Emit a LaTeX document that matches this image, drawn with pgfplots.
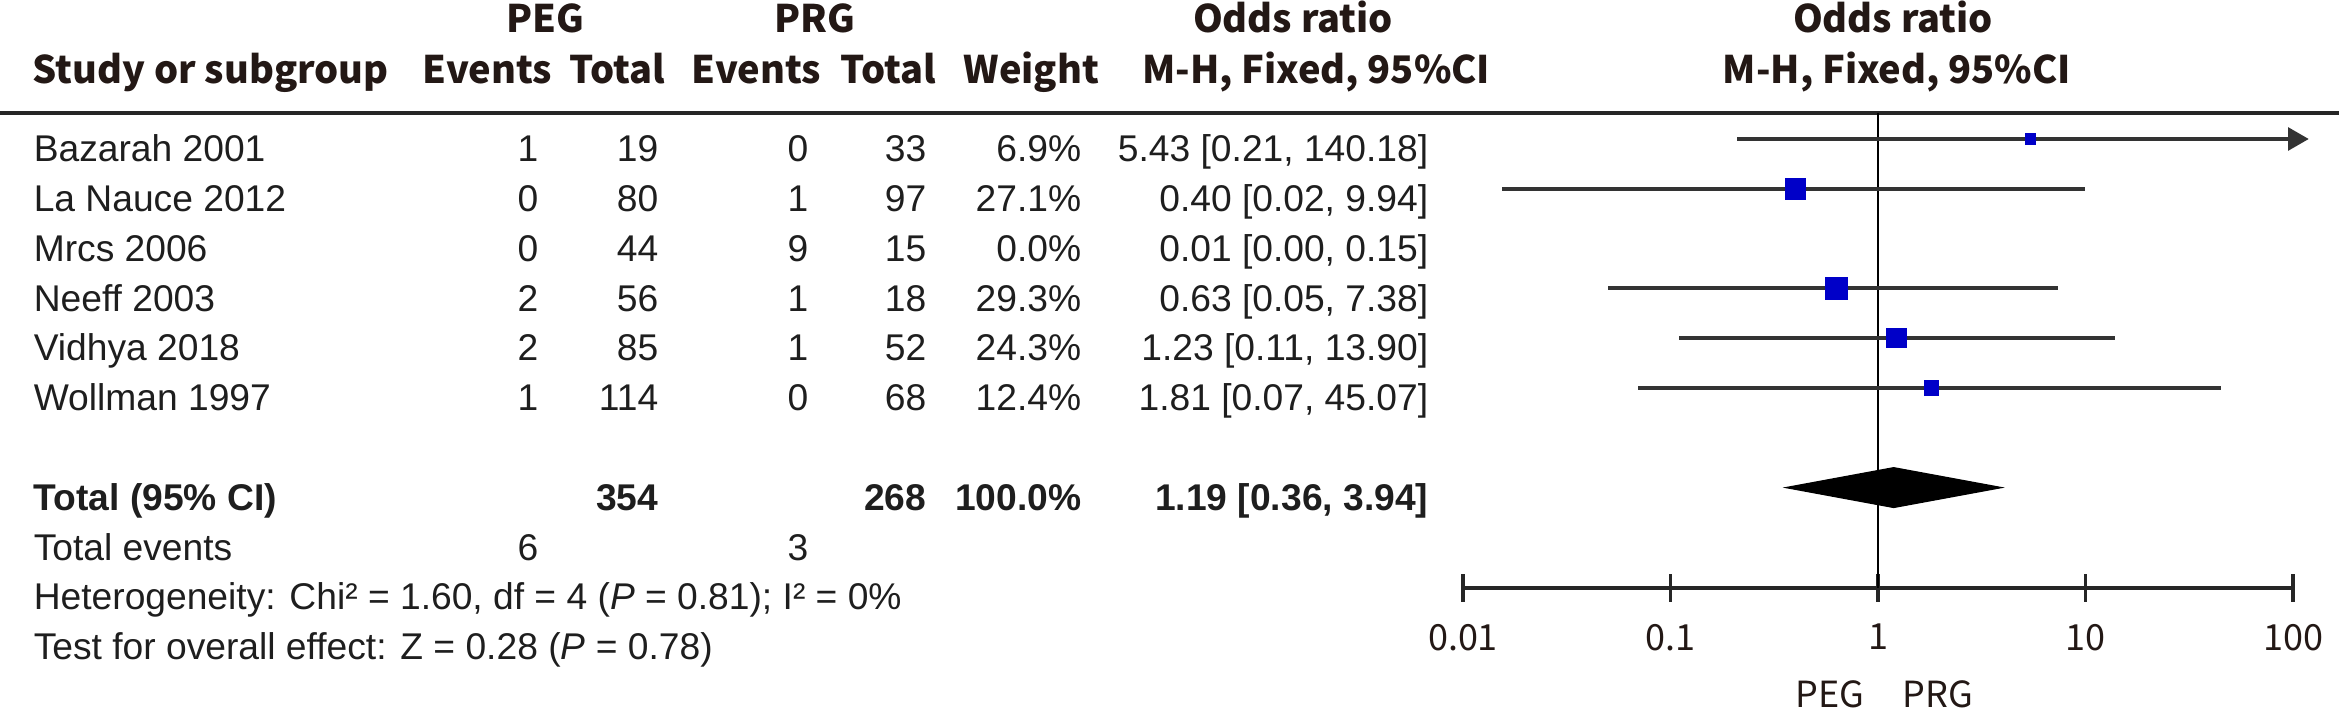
\documentclass[border=0pt]{standalone}
\usepackage{pgfplots}
\pgfplotsset{compat=1.18}
\usepackage{pgfplotstable}
\usepackage{fontspec}
\setmainfont{Liberation Sans}
\newfontfamily\cjkf{Noto Sans CJK SC}

\definecolor{sqblue}{HTML}{0000C8}
\definecolor{cigray}{HTML}{333333}
\definecolor{ink}{HTML}{231815}
\definecolor{body}{HTML}{1E1E1E}

\newcommand\bodyfont{\fontsize{9.3pt}{11pt}\selectfont}
\newcommand\hdrfont{\cjkf\bfseries\fontsize{9.5pt}{11pt}\selectfont}
\newcommand\tickfont{\cjkf\fontsize{9pt}{11pt}\selectfont}

% plotted studies: row index, odds ratio, 95% CI (as drawn), weight (%)
\pgfplotstableread{
row or   lo     hi     wt
0   5.43 0.21   140.18 6.9
1   0.40 0.0155 9.94   27.1
3   0.63 0.05   7.38   29.3
4   1.23 0.11   13.90  24.3
5   1.81 0.07   45.07  12.4
}\forestdata

\begin{document}
\begin{tikzpicture}[x=0.25pt, y=-0.25pt]
\path[use as bounding box] (0,0) rectangle (2339,717);
\draw[line width=0.8pt, black!85] (0,113) -- (2339,113);

\begin{axis}[
  at={(365.75pt,-28.25pt)}, anchor=north west,
  scale only axis, width=207.5pt, height=118.75pt,
  xmode=log, xmin=0.01, xmax=100, ymin=-9.016, ymax=0.522,
  axis y line=none, axis x line=bottom,
  x axis line style={-, line width=1pt, draw=black!85},
  xtick={0.01,0.1,1,10,100}, xticklabels={0.01,0.1,1,10,100},
  xminorticks=false,
  tick align=center, major tick length=7pt,
  major tick style={line width=0.8pt, black!85},
  xticklabel style={font=\tickfont, text=ink}, xticklabel shift=2pt,
]
% line of no effect
\addplot[line width=0.7pt, black] coordinates {(1,-9.016) (1,0.522)};
% confidence intervals
\addplot[draw=none, mark=none, error bars/.cd, x dir=both, x explicit,
  error mark=none, error bar style={draw=cigray, line width=1pt}]
  table[x=or, y expr=-\thisrow{row},
        x error plus expr=\thisrow{hi}-\thisrow{or},
        x error minus expr=\thisrow{or}-\thisrow{lo}] {\forestdata};
% weight squares
\addplot[scatter, only marks, mark=square*,
  scatter/use mapped color={draw=sqblue, fill=sqblue},
  visualization depends on={0.48*sqrt(\thisrow{wt})\as\msz},
  scatter/@pre marker code/.append style={/tikz/mark size=\msz pt}]
  table[x=or, y expr=-\thisrow{row}] {\forestdata};
% arrow for CI beyond 100
\addplot[only marks, mark=triangle*, mark size=3pt,
  mark options={xshift=0.5pt, rotate=-90, fill=cigray, draw=cigray}]
  coordinates {(100,0)};
% pooled estimate 1.19 [0.36, 3.94]
\addplot[fill=black, draw=black, line width=0.3pt]
  coordinates {(0.36,-7) (1.19,-6.6) (3.94,-7) (1.19,-7.4)} -- cycle;
\end{axis}

% headers
\begin{scope}[every node/.style={inner sep=0pt, font=\hdrfont, text=ink}]
\node[anchor=base] at (545,33) {PEG};
\node[anchor=base] at (815,33) {PRG};
\node[anchor=base] at (1293,33) {Odds ratio};
\node[anchor=base] at (1893,33) {Odds ratio};
\node[anchor=base west] at (32,83) {Study or subgroup};
\node[anchor=base east] at (553,83) {Events};
\node[anchor=base east] at (666,83) {Total};
\node[anchor=base east] at (822,83) {Events};
\node[anchor=base east] at (937,83) {Total};
\node[anchor=base east] at (1100,83) {Weight};
\node[anchor=base east] at (1491,83) {M-H, Fixed, 95\%CI};
\node[anchor=base] at (1897,83) {M-H, Fixed, 95\%CI};
\end{scope}

% study rows
\begin{scope}[every node/.style={inner sep=0pt, font=\bodyfont, text=body}]
\foreach \k/\s/\a/\b/\c/\d/\w/\o in {
  0/Bazarah 2001/1/19/0/33/6.9/{5.43 [0.21, 140.18]},
  1/La Nauce 2012/0/80/1/97/27.1/{0.40 [0.02, 9.94]},
  2/Mrcs 2006/0/44/9/15/0.0/{0.01 [0.00, 0.15]},
  3/Neeff 2003/2/56/1/18/29.3/{0.63 [0.05, 7.38]},
  4/Vidhya 2018/2/85/1/52/24.3/{1.23 [0.11, 13.90]},
  5/Wollman 1997/1/114/0/68/12.4/{1.81 [0.07, 45.07]}}{
  \pgfmathsetmacro\yb{161.7+49.8*\k}
  \node[anchor=base west] at (33,\yb) {\s};
  \node[anchor=base east] at (539,\yb) {\a};
  \node[anchor=base east] at (659,\yb) {\b};
  \node[anchor=base east] at (809,\yb) {\c};
  \node[anchor=base east] at (927,\yb) {\d};
  \node[anchor=base east] at (1082,\yb) {\w\%};
  \node[anchor=base east] at (1429,\yb) {\o};
}
\node[anchor=base west, font=\bodyfont\bfseries] at (33,510.3) {Total (95\% CI)};
\node[anchor=base east, font=\bodyfont\bfseries] at (659,510.3) {354};
\node[anchor=base east, font=\bodyfont\bfseries] at (927,510.3) {268};
\node[anchor=base east, font=\bodyfont\bfseries] at (1082,510.3) {100.0\%};
\node[anchor=base east, font=\bodyfont\bfseries] at (1429,510.3) {1.19 [0.36, 3.94]};
\node[anchor=base west] at (33,560.1) {Total events};
\node[anchor=base east] at (539,560.1) {6};
\node[anchor=base east] at (809,560.1) {3};
\node[anchor=base west] at (33,609.9) {Heterogeneity: Chi² = 1.60, df = 4 (\textit{P} = 0.81); I² = 0\%};
\node[anchor=base west] at (33,659.7) {Test for overall effect: Z = 0.28 (\textit{P} = 0.78)};
\end{scope}

\node[anchor=base, inner sep=0pt, font=\tickfont, text=ink] at (1830,707) {PEG};
\node[anchor=base, inner sep=0pt, font=\tickfont, text=ink] at (1938,707) {PRG};
\end{tikzpicture}
\end{document}
